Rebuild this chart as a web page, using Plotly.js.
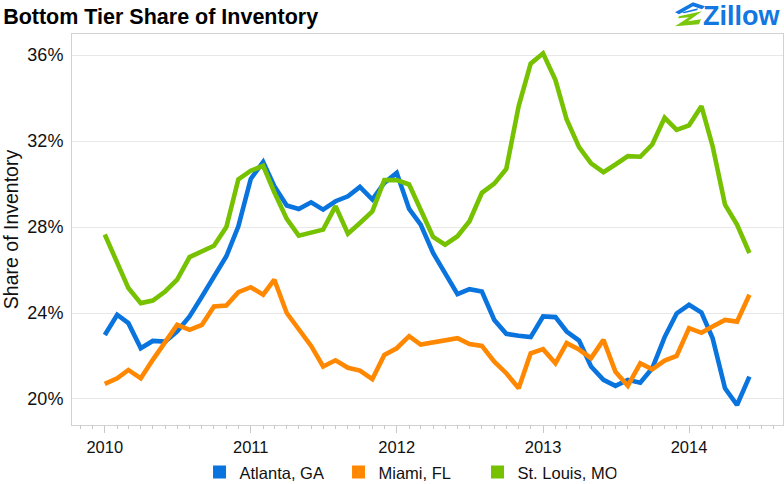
<!DOCTYPE html>
<html><head><meta charset="utf-8">
<script src="https://cdn.plot.ly/plotly-3.0.1.min.js"></script>
<style>html,body{margin:0;padding:0;background:#fff}#chart{width:784px;height:484px}</style>
</head><body><div id="chart"></div>
<script>
const startYear = 2010, monthCount = 54;
const months = [];
for (let i = 0; i < monthCount; i++) {
  const y = startYear + Math.floor(i / 12), m = i % 12 + 1;
  months.push(y + '-' + String(m).padStart(2, '0') + '-01');
}
const seriesNames = ['Atlanta, GA', 'Miami, FL', 'St. Louis, MO'];
const seriesColors = ['#0a74de', '#ff8800', '#76c100'];
const atlanta = [22.98, 23.92, 23.53, 22.36, 22.7, 22.67, 23.14, 23.84, 24.77, 25.7, 26.64, 28.03,
  30.24, 31.03, 29.9, 29.0, 28.84, 29.15, 28.81, 29.2, 29.43, 29.87, 29.28, 30.05,
  30.52, 28.84, 28.11, 26.79, 25.86, 24.88, 25.11, 25.0, 23.68, 23.03, 22.94, 22.88,
  23.84, 23.81, 23.14, 22.72, 21.51, 20.89, 20.61, 20.89, 20.76, 21.43, 22.88, 23.98,
  24.38, 24.02, 22.83, 20.5, 19.72, 21.04];
const miami = [20.7, 20.96, 21.35, 20.96, 21.82, 22.67, 23.45, 23.22, 23.45, 24.3, 24.35, 24.97,
  25.2, 24.85, 25.55, 24.0, 23.22, 22.47, 21.51, 21.8, 21.45, 21.32, 20.92, 22.05,
  22.36, 22.92, 22.53, 22.63, 22.72, 22.83, 22.56, 22.47, 21.74, 21.2, 20.5, 22.13,
  22.32, 21.66, 22.6, 22.3, 21.9, 22.75, 21.27, 20.61, 21.66, 21.38, 21.79, 22.0,
  23.3, 23.08, 23.37, 23.68, 23.6, 24.85];
const stLouis = [27.65, 26.33, 25.16, 24.46, 24.58, 25.0, 25.55, 26.6, 26.87, 27.13, 28.0, 30.22,
  30.62, 30.85, 29.62, 28.38, 27.6, 27.75, 27.88, 28.97, 27.69, 28.19, 28.73, 30.18,
  30.18, 29.98, 28.81, 27.54, 27.18, 27.57, 28.27, 29.59, 30.02, 30.7, 33.63, 35.6,
  36.08, 34.84, 33.0, 31.72, 30.96, 30.55, 30.91, 31.3, 31.27, 31.84, 33.08, 32.52,
  32.73, 33.62, 31.76, 29.04, 28.11, 26.79];
const yTicks = [20, 24, 28, 32, 36];
const yTickLabels = ['20%', '24%', '28%', '32%', '36%'];
const seriesValues = [atlanta, miami, stLouis];

const FONT = 'Liberation Sans, Arial, sans-serif';
const traces = [];
seriesValues.forEach((vals, k) => {
  traces.push({x: months, y: vals, type: 'scatter', mode: 'lines', name: seriesNames[k],
    line: {color: seriesColors[k], width: 4.6}, showlegend: false, hoverinfo: 'x+y'});
});
seriesNames.forEach((n, k) => {
  traces.push({x: [null], y: [null], type: 'scatter', mode: 'markers', name: n,
    marker: {symbol: 'square', size: 13, color: seriesColors[k]}, showlegend: true});
});

const logoSvg = '<svg xmlns="http://www.w3.org/2000/svg" viewBox="0 0 36 26">' +
  '<polygon points="1,11 19,1 31,5 28,8 19,5 5,13" fill="#1277e1"/>' +
  '<polygon points="8,11 24,7 23,9 10,12" fill="#1277e1"/>' +
  '<polygon points="5,15 28,10 14,20 27,18 25,23 1,25 15,16 4,17" fill="#7ac70c"/>' +
  '</svg>';

const layout = {
  width: 784, height: 484,
  margin: {l: 72, r: 1, t: 34, b: 59, autoexpand: false},
  paper_bgcolor: '#fff', plot_bgcolor: '#fff',
  font: {family: FONT, color: '#111', size: 16},
  title: {text: '<b>Bottom Tier Share of Inventory</b>', xref: 'container', x: 0.004, xanchor: 'left',
    yref: 'container', y: 0.966, yanchor: 'middle', font: {size: 21.5, color: '#000', family: FONT}},
  xaxis: {type: 'date', range: ['2009-10-11', '2014-08-24'], dtick: 'M12', tick0: '2010-01-01',
    tickformat: '%Y', ticks: 'outside', ticklen: 7, tickcolor: '#c8c8c8', tickwidth: 1, ticklabelstandoff: 0,
    minor: {dtick: 'M1', tick0: '2010-01-01', ticks: 'outside', ticklen: 3, tickcolor: '#c8c8c8', showgrid: false},
    showgrid: false, zeroline: false, showline: true, mirror: true, linecolor: '#d2d2d2', linewidth: 1,
    tickfont: {size: 16.5, color: '#111'}},
  yaxis: {range: [18.79, 36.98], tickmode: 'array', tickvals: yTicks, ticktext: yTickLabels, ticks: '', showgrid: true,
    gridcolor: '#e8e8e8', gridwidth: 1, zeroline: false, showline: true, mirror: true,
    linecolor: '#d2d2d2', linewidth: 1, tickfont: {size: 18, color: '#111'}, ticklabelstandoff: 4,
    title: {text: 'Share of Inventory', font: {size: 19.5, color: '#111'}, standoff: 3}},
  legend: {orientation: 'h', xref: 'container', x: 0.2545, xanchor: 'left', yref: 'container', y: 0.024, yanchor: 'middle',
    entrywidth: 94, entrywidthmode: 'pixels',
    font: {size: 16.5, color: '#111'}, bgcolor: 'rgba(0,0,0,0)'},
  annotations: [{text: '<b>Zillow</b>', xref: 'paper', yref: 'paper', x: 0.999, y: 1.046,
    xanchor: 'right', yanchor: 'middle', showarrow: false, font: {size: 27, color: '#1277e1', family: FONT}}],
  images: [{source: 'data:image/svg+xml;charset=utf-8,' + encodeURIComponent(logoSvg), xref: 'paper', yref: 'paper',
    x: 0.8467, y: 1.084, sizex: 0.0506, sizey: 0.0665, xanchor: 'left', yanchor: 'top', sizing: 'stretch', layer: 'above'}],
  showlegend: true
};
Plotly.newPlot('chart', traces, layout, {displayModeBar: false, staticPlot: true});
</script></body></html>
